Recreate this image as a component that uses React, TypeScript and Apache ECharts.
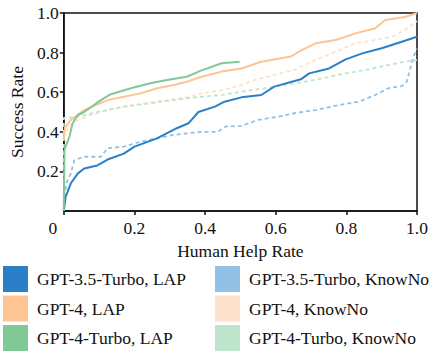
import React, { useEffect, useRef } from "react";
import * as echarts from "echarts";

const FONT = '"Liberation Serif", "Times New Roman", serif';

const xTicks = [0, 0.2, 0.4, 0.6, 0.8, 1.0];
const yTicks = [0, 0.2, 0.4, 0.6, 0.8, 1.0];

const seriesNames = [
  "GPT-3.5-Turbo, LAP",
  "GPT-4, LAP",
  "GPT-4-Turbo, LAP",
  "GPT-3.5-Turbo, KnowNo",
  "GPT-4, KnowNo",
  "GPT-4-Turbo, KnowNo",
];
const seriesColors = ["#2a7fc7", "#fdc494", "#80c997", "#93c1e5", "#fde2cb", "#c0e5cf"];

const gpt35LapX = [0, 0.005, 0.02, 0.04, 0.058, 0.095, 0.124, 0.17, 0.2, 0.264, 0.283, 0.32, 0.353, 0.381, 0.428, 0.455, 0.503, 0.559, 0.596, 0.671, 0.695, 0.751, 0.798, 0.845, 0.9, 0.957, 1.0];
const gpt35LapY = [0, 0.07, 0.14, 0.19, 0.215, 0.23, 0.26, 0.29, 0.325, 0.367, 0.384, 0.418, 0.443, 0.5, 0.527, 0.552, 0.574, 0.586, 0.628, 0.665, 0.695, 0.72, 0.766, 0.796, 0.822, 0.855, 0.88];

const gpt4LapX = [0, 0.003, 0.02, 0.058, 0.124, 0.17, 0.217, 0.264, 0.311, 0.348, 0.39, 0.447, 0.503, 0.559, 0.643, 0.671, 0.713, 0.77, 0.826, 0.882, 0.91, 0.966, 1.0];
const gpt4LapY = [0.36, 0.42, 0.46, 0.51, 0.56, 0.577, 0.594, 0.62, 0.636, 0.653, 0.678, 0.704, 0.72, 0.754, 0.78, 0.81, 0.847, 0.864, 0.897, 0.923, 0.965, 0.98, 1.0];

const gpt4TurboLapX = [0, 0.002, 0.016, 0.025, 0.04, 0.058, 0.105, 0.133, 0.19, 0.245, 0.292, 0.348, 0.39, 0.447, 0.498];
const gpt4TurboLapY = [0, 0.31, 0.375, 0.443, 0.485, 0.5, 0.56, 0.59, 0.62, 0.645, 0.662, 0.678, 0.71, 0.746, 0.754];

const gpt35KnowNoX = [0, 0.007, 0.02, 0.03, 0.058, 0.105, 0.124, 0.17, 0.217, 0.264, 0.311, 0.348, 0.39, 0.437, 0.456, 0.503, 0.55, 0.606, 0.657, 0.713, 0.779, 0.835, 0.882, 0.919, 0.957, 0.971, 0.98, 0.99, 1.0];
const gpt35KnowNoY = [0, 0.14, 0.19, 0.257, 0.274, 0.274, 0.317, 0.325, 0.35, 0.367, 0.384, 0.392, 0.4, 0.4, 0.426, 0.43, 0.46, 0.476, 0.495, 0.51, 0.535, 0.552, 0.586, 0.62, 0.631, 0.653, 0.712, 0.779, 0.82];

const gpt4KnowNoX = [0, 0.003, 0.02, 0.04, 0.077, 0.124, 0.17, 0.227, 0.292, 0.348, 0.39, 0.447, 0.503, 0.54, 0.596, 0.652, 0.713, 0.77, 0.826, 0.882, 0.929, 0.966, 1.0];
const gpt4KnowNoY = [0.37, 0.392, 0.434, 0.46, 0.485, 0.51, 0.527, 0.544, 0.56, 0.574, 0.594, 0.61, 0.636, 0.662, 0.687, 0.712, 0.763, 0.805, 0.847, 0.864, 0.88, 0.914, 0.96];

const gpt4TurboKnowNoX = [0, 0, 0.04, 0.095, 0.17, 0.245, 0.311, 0.348, 0.39, 0.447, 0.503, 0.568, 0.606, 0.671, 0.732, 0.798, 0.854, 0.919, 0.966, 1.0];
const gpt4TurboKnowNoY = [0, 0.47, 0.476, 0.5, 0.527, 0.544, 0.56, 0.569, 0.577, 0.586, 0.603, 0.62, 0.631, 0.65, 0.67, 0.695, 0.712, 0.737, 0.754, 0.762];

const seriesX = [gpt35LapX, gpt4LapX, gpt4TurboLapX, gpt35KnowNoX, gpt4KnowNoX, gpt4TurboKnowNoX];
const seriesY = [gpt35LapY, gpt4LapY, gpt4TurboLapY, gpt35KnowNoY, gpt4KnowNoY, gpt4TurboKnowNoY];

export default function App() {
  const ref = useRef<HTMLDivElement>(null);
  useEffect(() => {
    if (!ref.current) return;
    const chart = echarts.init(ref.current, undefined, { renderer: "svg" });
    const order = [3, 4, 5, 0, 1, 2];
    const series = order.map((i) => ({
      name: seriesNames[i],
      type: "line",
      showSymbol: false,
      symbol: "none",
      data: seriesX[i].map((x, k) => [x, seriesY[i][k]]),
      itemStyle: { color: seriesColors[i] },
      lineStyle: {
        color: seriesColors[i],
        width: i < 3 ? 2 : 1.8,
        type: i < 3 ? "solid" : [4, 3],
      },
      z: i < 3 ? 3 : 2,
    }));
    const legendBase = {
      orient: "vertical",
      icon: "rect",
      itemWidth: 25,
      itemHeight: 26,
      itemGap: 3.5,
      top: 266,
      height: 90,
      padding: 0,
      itemStyle: { borderWidth: 0 },
      textStyle: { fontFamily: FONT, fontSize: 17.5, color: "#111", padding: [0, 0, 0, 4] },
    };
    chart.setOption({
      animation: false,
      grid: {
        left: 61,
        top: 13,
        right: 17,
        bottom: 140,
        show: true,
        borderColor: "#111",
        borderWidth: 1.5,
        backgroundColor: "transparent",
      },
      legend: [
        { ...legendBase, left: 3, data: seriesNames.slice(0, 3) },
        { ...legendBase, left: 215, data: seriesNames.slice(3, 6) },
      ],
      xAxis: {
        type: "value",
        min: xTicks[0],
        max: xTicks[xTicks.length - 1],
        interval: 0.2,
        name: "Human Help Rate",
        nameLocation: "middle",
        nameGap: 25,
        nameTextStyle: { fontFamily: FONT, fontSize: 17.5, color: "#111" },
        axisLine: { lineStyle: { color: "#111", width: 1.5 } },
        axisTick: { show: true, length: 4, lineStyle: { color: "#111", width: 1.5 } },
        splitLine: { show: false },
        axisLabel: {
          fontFamily: FONT,
          fontSize: 17.5,
          color: "#111",
          margin: 8,
          formatter: (v: number) => (v === 0 ? "{z|0}" : v.toFixed(1)),
          rich: { z: { fontFamily: FONT, fontSize: 17.5, color: "#111", padding: [0, 22, 0, 0] } },
        },
      },
      yAxis: {
        type: "value",
        min: yTicks[0],
        max: yTicks[yTicks.length - 1],
        interval: 0.2,
        name: "Success Rate",
        nameLocation: "middle",
        nameGap: 35,
        nameTextStyle: { fontFamily: FONT, fontSize: 17.5, color: "#111" },
        axisLine: { show: true, lineStyle: { color: "#111", width: 1.5 } },
        axisTick: { show: true, length: 4, lineStyle: { color: "#111", width: 1.5 } },
        splitLine: { show: false },
        axisLabel: {
          fontFamily: FONT,
          fontSize: 17.5,
          color: "#111",
          margin: 5,
          showMinLabel: false,
          formatter: (v: number) => (v === 0 ? "" : v.toFixed(1)),
        },
      },
      series,
    });
    return () => chart.dispose();
  }, []);
  return (
    <div
      ref={ref}
      style={{ position: "fixed", left: 0, top: 0, width: 434, height: 351, background: "#fff" }}
    />
  );
}
